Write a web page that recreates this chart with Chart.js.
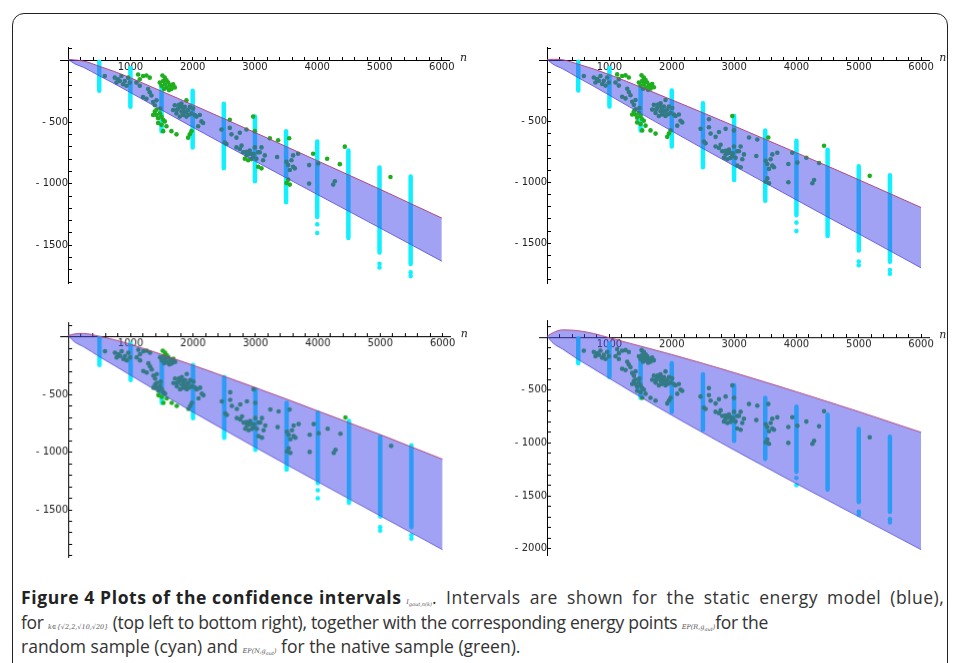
<!DOCTYPE html>
<html>
<head>
<meta charset="utf-8">
<script src="https://cdn.jsdelivr.net/npm/chart.js@4.4.0/dist/chart.umd.min.js"></script>
<style>
body { margin: 0; background: #fff; width: 959px; height: 663px; overflow: hidden; position: relative; font-family: "Open Sans", sans-serif; }
#frame { position: absolute; left: 12px; top: 13px; width: 934px; height: 720px; border: 1.5px solid #222; border-radius: 12px; }
.plot { position: absolute; }
#caption { position: absolute; left: 21px; top: 585px; font-size: 17.5px; color: #333; white-space: nowrap; }
#caption div { height: 24.5px; line-height: 24.5px; }
#caption b { color: #222; letter-spacing: 0.6px; }
#caption .ws { letter-spacing: 0.5px; word-spacing: 4px; }
#caption .l2 { letter-spacing: -0.3px; }
.m { font-family: "DejaVu Serif", serif; font-style: italic; font-size: 6.5px; color: #555; line-height: 0; letter-spacing: 0; }
.m sub { line-height: 0; font-size: 5px; }
</style>
</head>
<body>
<div id="frame"></div>
<div class="plot" id="p1"><canvas id="c1"></canvas></div>
<div class="plot" id="p2"><canvas id="c2"></canvas></div>
<div class="plot" id="p3"><canvas id="c3"></canvas></div>
<div class="plot" id="p4"><canvas id="c4"></canvas></div>
<div id="caption">
<div><b>Figure 4 Plots of the confidence intervals</b> <span class="m">I<sub>gaut,n(k)</sub></span><span class="ws">. Intervals are shown for the static energy model (blue),</span></div>
<div class="l2">for <span class="m">k∈{√2,2,√10,√20}</span> (top left to bottom right), together with the corresponding energy points <span class="m">EP(R,g<sub>aut</sub>)</span>for the</div>
<div>random sample (cyan) and <span class="m">EP(N,g<sub>aut</sub>)</span> for the native sample (green).</div>
</div>
<script>
// band of the confidence interval, read at these n values
const bandN = [0, 100, 250, 500, 750, 1000, 1500, 2000, 2500, 3000, 3500, 4000, 4500, 5000, 5500, 6000];
// k = sqrt(2)
const upper1 = [10, 5, -4, -46, -90, -140, -249, -359, -471, -584, -698, -813, -928, -1043, -1161, -1279];
const lower1 = [10, -25, -56, -124, -190, -260, -401, -541, -679, -816, -952, -1087, -1222, -1357, -1493, -1629];
// k = 2
const upper2 = [10, 11, 7, -29, -69, -115, -217, -322, -428, -536, -646, -756, -866, -978, -1092, -1206];
const lower2 = [10, -31, -67, -141, -211, -285, -433, -578, -722, -864, -1004, -1144, -1284, -1422, -1562, -1702];
// k = sqrt(10)
const upper3 = [10, 24, 28, 3, -27, -66, -154, -247, -343, -441, -541, -643, -745, -848, -955, -1062];
const lower3 = [10, -44, -88, -173, -253, -334, -496, -653, -807, -959, -1109, -1257, -1405, -1552, -1699, -1846];
// k = sqrt(20)
const upper4 = [10, 45, 70, 62, 35, -5, -84, -163, -247, -334, -424, -515, -609, -703, -801, -899];
const lower4 = [10, -57, -112, -210, -299, -389, -566, -737, -903, -1066, -1226, -1385, -1541, -1697, -1853, -2009];

// random sample (cyan): vertical runs of points at each n
const cyanN = [500, 1000, 1500, 2000, 2500, 3000, 3500, 4000, 4500, 5000, 5500];
const cyanTop = [-10, -60, -205, -245, -350, -455, -573, -657, -731, -868, -941];
const cyanBottom = [-245, -376, -573, -705, -875, -980, -1151, -1270, -1440, -1559, -1651];
const cyanExtraN = [4000, 4000, 5000, 5000, 5500, 5500];
const cyanExtraE = [-1330, -1400, -1650, -1680, -1720, -1750];

// native sample (green)
const nativeN = [589, 749, 803, 856, 910, 963, 990, 776, 883, 937, 830,
  1124, 1204, 1258, 1311, 1151, 1097, 1151, 1204, 1258, 1311, 1338, 1365, 1392, 1419, 1285,
  1472, 1499, 1526, 1552, 1579, 1606, 1633, 1659, 1686, 1713, 1552, 1515, 1540, 1620, 1580, 1660,
  1392, 1419, 1445, 1472, 1499, 1526, 1552, 1445, 1499, 1579, 1365, 1420, 1480,
  1659, 1740, 1526, 1900, 1820,
  1713, 1766, 1820, 1874, 1927, 1981, 1740, 1793, 1847, 1900, 1954, 2007, 1686, 2034, 1780, 1860, 1940, 1830, 1890, 1750,
  2061, 2114, 2141, 2088, 2168, 1954, 1981, 1927,
  2462, 2516, 2543, 2596, 2623, 2703, 2757, 2596, 2864,
  2757, 2810, 2864, 2917, 2971, 2891, 2837, 2784, 2998, 2944, 3024, 2703, 3051, 2900, 2940, 2860, 2980,
  2971, 2998, 3051, 3105, 3105, 3131, 3158, 3078,
  3239, 3372, 3549, 3934, 4159, 4443, 5176,
  3356, 3506, 3533, 3560, 3586, 3613, 3640, 3506, 3560, 3533, 3613, 3693,
  3870, 3870, 4015, 4363, 4256, 4283];
const nativeE = [-126, -139, -152, -126, -166, -139, -179, -179, -192, -205, -166,
  -113, -126, -121, -139, -152, -179, -205, -297, -310, -258, -284, -337, -363, -323, -231,
  -179, -205, -166, -192, -218, -179, -205, -231, -192, -218, -139, -121, -230, -240, -160, -200,
  -415, -442, -468, -429, -455, -481, -494, -507, -521, -534, -442, -400, -390,
  -573, -599, -573, -323, -350,
  -363, -389, -415, -376, -402, -429, -429, -455, -442, -455, -376, -389, -402, -442, -360, -410, -440, -380, -420, -400,
  -455, -442, -494, -534, -507, -599, -573, -626,
  -560, -665, -678, -547, -599, -626, -586, -481, -560,
  -718, -744, -770, -731, -783, -810, -797, -691, -705, -757, -797, -705, -744, -760, -800, -740, -760,
  -455, -573, -862, -875, -705, -810, -770, -744,
  -631, -647, -631, -757, -797, -699, -946,
  -783, -823, -849, -889, -810, -862, -875, -994, -1007, -967, -770, -757,
  -849, -999, -836, -841, -1007, -980];

// chart area boxes on the page and y ranges
const boxes = [
  { id: 'c1', l: 59.5, t: 40, r: 449.4, b: 283, yMin: -1806, yMax: 110, up: upper1, lo: lower1 },
  { id: 'c2', l: 538.6, t: 40, r: 928.8, b: 283, yMin: -1826, yMax: 112, up: upper2, lo: lower2 },
  { id: 'c3', l: 60.2, t: 315, r: 449.9, b: 556.7, yMin: -1915, yMax: 127, up: upper3, lo: lower3 },
  { id: 'c4', l: 538.6, t: 313.3, r: 928.8, b: 555, yMin: -2066, yMax: 163, up: upper4, lo: lower4 }
];
const pad = { left: 60, top: 12, right: 30, bottom: 20 };

const nLabel = {
  id: 'nLabel',
  afterDraw(chart) {
    const ctx = chart.ctx;
    ctx.save();
    ctx.font = 'italic 11px "DejaVu Serif"';
    ctx.fillStyle = '#222';
    ctx.textBaseline = 'middle';
    ctx.fillText('n', chart.scales.x.right + 10, chart.scales.y.getPixelForValue(0) - 2);
    ctx.restore();
  }
};

const tickFont = { family: 'DejaVu Sans', size: 10 };

function makePlot(bx) {
  const wrap = document.getElementById(bx.id).parentNode;
  wrap.style.left = (bx.l - pad.left) + 'px';
  wrap.style.top = (bx.t - pad.top) + 'px';
  wrap.style.width = (bx.r - bx.l + pad.left + pad.right) + 'px';
  wrap.style.height = (bx.b - bx.t + pad.top + pad.bottom) + 'px';

  const strips = [];
  cyanN.forEach((n, i) => {
    strips.push({ x: n, y: cyanTop[i] }, { x: n, y: cyanBottom[i] }, { x: n + 1, y: null });
  });

  new Chart(document.getElementById(bx.id), {
    type: 'line',
    data: {
      datasets: [
        {
          data: bandN.map((n, i) => ({ x: n, y: bx.up[i] })),
          borderColor: 'rgba(175,60,115,0.9)', borderWidth: 1,
          backgroundColor: 'rgba(70,70,235,0.5)', fill: '+1',
          pointRadius: 0, cubicInterpolationMode: 'monotone', order: 0
        },
        {
          data: bandN.map((n, i) => ({ x: n, y: bx.lo[i] })),
          borderColor: 'rgba(90,80,200,0.8)', borderWidth: 1,
          fill: false, pointRadius: 0, cubicInterpolationMode: 'monotone', order: 0
        },
        {
          data: nativeN.map((n, i) => ({ x: n, y: nativeE[i] })),
          showLine: false, pointRadius: 2.3, borderWidth: 0,
          pointBackgroundColor: '#1fae1f', order: 1
        },
        {
          data: strips, spanGaps: false,
          borderColor: '#10f0ff', borderWidth: 4.5, borderCapStyle: 'round',
          pointRadius: 0, order: 2
        },
        {
          data: cyanExtraN.map((n, i) => ({ x: n, y: cyanExtraE[i] })),
          showLine: false, pointRadius: 2.3, borderWidth: 0,
          pointBackgroundColor: '#10f0ff', order: 2
        }
      ]
    },
    options: {
      responsive: true, maintainAspectRatio: false, animation: false, events: [],
      layout: { padding: pad },
      plugins: { legend: { display: false }, tooltip: { enabled: false }, filler: { drawTime: 'beforeDatasetDraw' } },
      scales: {
        x: {
          type: 'linear', min: -130, max: 6130, position: { y: 0 }, offset: false,
          border: { display: true, color: '#000', width: 1 },
          grid: { drawOnChartArea: false, drawTicks: true, tickLength: -4, color: '#000' },
          afterBuildTicks: s => { s.ticks = s.ticks.filter(t => t.value % 200 === 0 && t.value > 0 && t.value <= 6000); },
          ticks: {
            stepSize: 200, includeBounds: false, padding: 5, font: tickFont, color: '#222', maxRotation: 0, autoSkip: false,
            callback: v => (v % 1000 === 0 ? String(v) : '')
          }
        },
        y: {
          type: 'linear', min: bx.yMin, max: bx.yMax, position: { x: 0 },
          border: { display: true, color: '#000', width: 1 },
          grid: { drawOnChartArea: false, drawTicks: true, tickLength: -4, color: '#000' },
          afterBuildTicks: s => { s.ticks = s.ticks.filter(t => t.value % 100 === 0 && t.value !== 0); },
          ticks: {
            stepSize: 100, includeBounds: false, padding: 13, font: tickFont, color: '#222', autoSkip: false,
            callback: v => (v % 500 === 0 ? '- ' + Math.abs(v) : '')
          }
        }
      }
    },
    plugins: [nLabel]
  });
}

boxes.forEach(makePlot);
</script>
</body>
</html>
